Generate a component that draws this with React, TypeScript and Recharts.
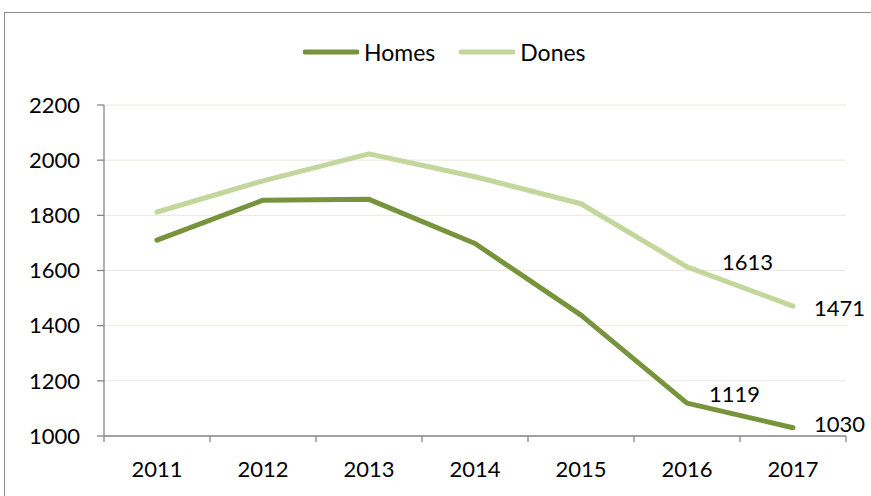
import React from 'react';
import { LineChart, Line, XAxis, YAxis, CartesianGrid, Legend, LabelList } from 'recharts';

const years = ['2011', '2012', '2013', '2014', '2015', '2016', '2017'];
const homes = [1710, 1855, 1858, 1698, 1438, 1119, 1030];
const dones = [1812, 1925, 2023, 1940, 1842, 1613, 1471];
const yTicks = [1000, 1200, 1400, 1600, 1800, 2000, 2200];

const data = years.map((year, i) => ({ year, homes: homes[i], dones: dones[i] }));

const FONT = 'Lato, "Open Sans", sans-serif';
const AXIS = '#868686';
const HALF_BAND = 53;

const XTick = (props: any) => {
  const { x, y, payload, index } = props;
  return (
    <g>
      <line x1={x - HALF_BAND} y1={y} x2={x - HALF_BAND} y2={y + 6} stroke={AXIS} strokeWidth={1.3} />
      {index === years.length - 1 && (
        <line x1={x + HALF_BAND} y1={y} x2={x + HALF_BAND} y2={y + 6} stroke={AXIS} strokeWidth={1.3} />
      )}
      <text x={x} y={y + 41} textAnchor="middle" fontFamily={FONT} fontSize={22} fill="#000">
        {payload.value}
      </text>
    </g>
  );
};

// only the last two points carry labels, nudged like the original
const makeLabel = (offsets: Record<number, [number, number]>) => (props: any) => {
  const { x, y, value, index } = props;
  const off = offsets[index];
  if (!off) return null;
  return (
    <text x={x + off[0]} y={y + off[1]} dy="0.355em" textAnchor="start" fontFamily={FONT} fontSize={22} fill="#000">
      {value}
    </text>
  );
};

const homesLabel = makeLabel({ 5: [22, -9], 6: [21, -4] });
const donesLabel = makeLabel({ 5: [35, -5], 6: [21, 2] });

const LegendContent = () => (
  <div style={{ height: 30, display: 'flex', alignItems: 'center', paddingLeft: 303, fontFamily: FONT, fontSize: 23 }}>
    {[
      { name: 'Homes', color: '#77933C' },
      { name: 'Dones', color: '#C3D69B' },
    ].map((item) => (
      <div key={item.name} style={{ display: 'flex', alignItems: 'center', marginRight: 24 }}>
        <svg width={56} height={10}>
          <line x1={2} y1={5} x2={54} y2={5} stroke={item.color} strokeWidth={5} strokeLinecap="round" />
        </svg>
        <span style={{ marginLeft: 5, color: '#000' }}>{item.name}</span>
      </div>
    ))}
  </div>
);

export default function App() {
  return (
    <div style={{ position: 'absolute', left: 0, top: 0, width: 871, height: 496, overflow: 'hidden', background: '#fff' }}>
      <div
        style={{
          position: 'absolute',
          left: 4,
          top: 12,
          width: 900,
          height: 520,
          border: '1.5px solid #8c8c8c',
          boxSizing: 'border-box',
        }}
      />
      <div style={{ position: 'absolute', left: 0, top: 0 }}>
        <LineChart width={871} height={496} data={data} margin={{ top: 75, right: 25, bottom: 30, left: 0 }}>
          <CartesianGrid vertical={false} stroke="#ECE8DD" strokeWidth={1} />
          <XAxis
            dataKey="year"
            padding={{ left: HALF_BAND, right: HALF_BAND }}
            axisLine={{ stroke: AXIS, strokeWidth: 1.3 }}
            tickLine={false}
            tickSize={0}
            tickMargin={0}
            tick={<XTick />}
            interval={0}
            height={30}
          />
          <YAxis
            domain={[1000, 2200]}
            ticks={yTicks}
            width={104}
            axisLine={{ stroke: AXIS, strokeWidth: 1.3 }}
            tickLine={{ stroke: AXIS, strokeWidth: 1.3 }}
            tickSize={7}
            tickMargin={17}
            tick={{ fontFamily: FONT, fontSize: 22, fill: '#000' }}
          />
          <Legend verticalAlign="top" content={<LegendContent />} wrapperStyle={{ top: 37, left: 0, width: 871 }} />
          <Line
            dataKey="homes"
            name="Homes"
            stroke="#77933C"
            strokeWidth={5}
            strokeLinecap="round"
            strokeLinejoin="round"
            dot={false}
            isAnimationActive={false}
          >
            <LabelList dataKey="homes" content={homesLabel} />
          </Line>
          <Line
            dataKey="dones"
            name="Dones"
            stroke="#C3D69B"
            strokeWidth={5}
            strokeLinecap="round"
            strokeLinejoin="round"
            dot={false}
            isAnimationActive={false}
          >
            <LabelList dataKey="dones" content={donesLabel} />
          </Line>
        </LineChart>
      </div>
    </div>
  );
}
